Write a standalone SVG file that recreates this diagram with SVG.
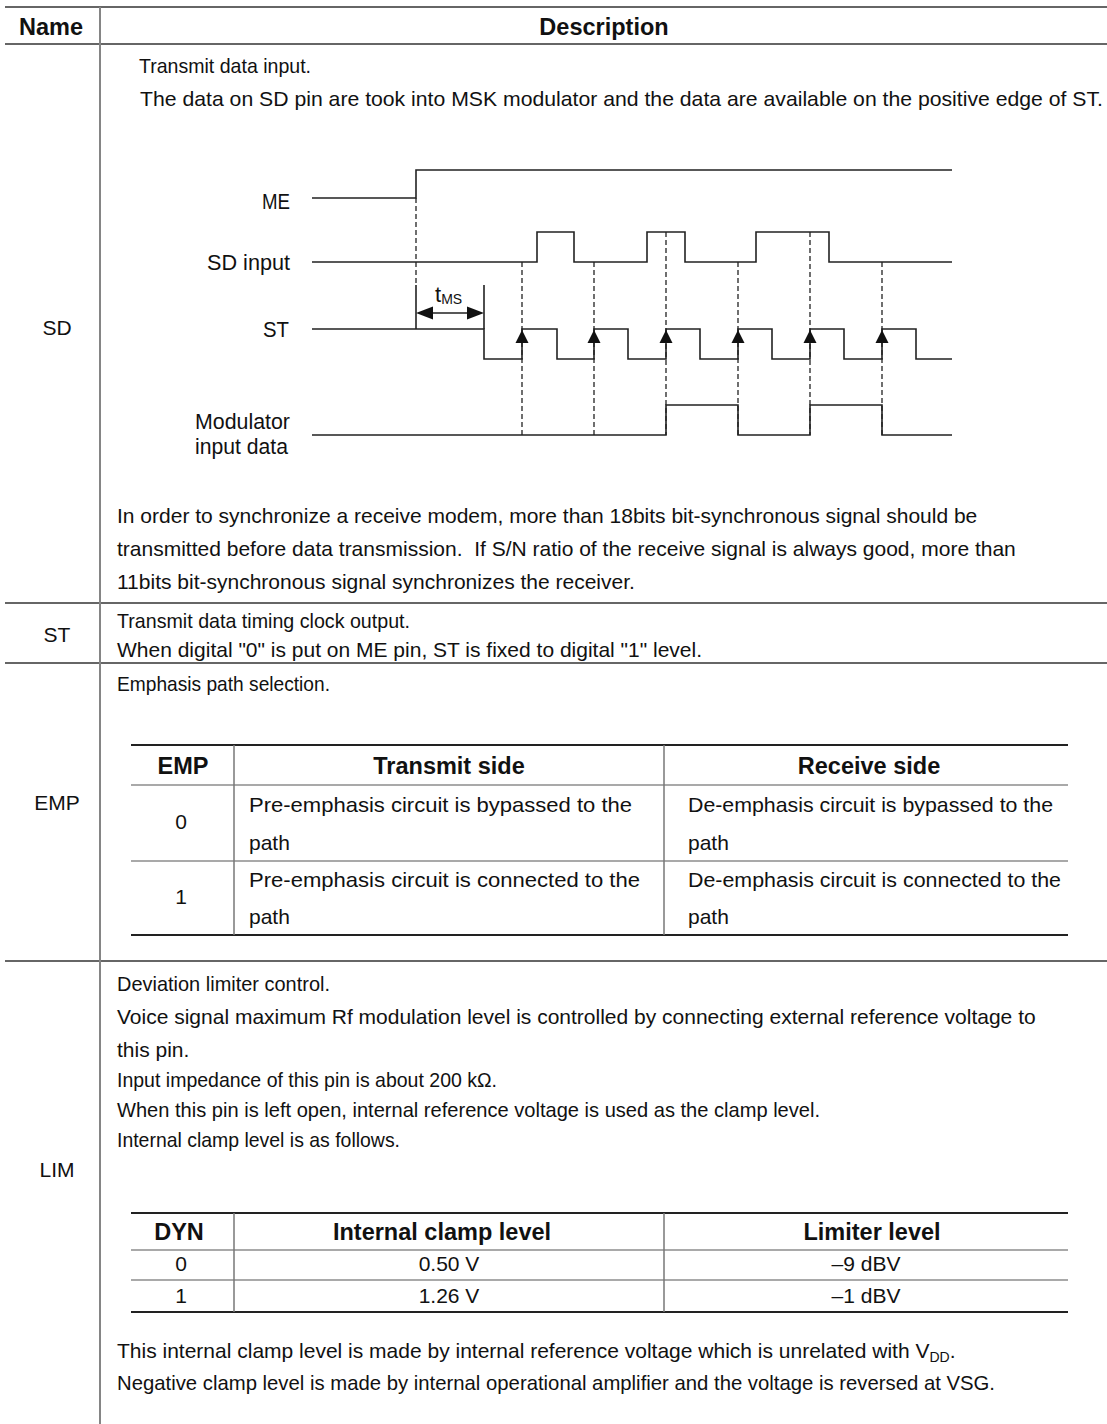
<svg xmlns="http://www.w3.org/2000/svg" width="1107" height="1424" viewBox="0 0 1107 1424">
<style>
text { font-family: "Liberation Sans", Arial, sans-serif; font-size: 21px; fill: #111; }
.b { font-weight: bold; font-size: 23.5px; }
.c { text-anchor: middle; }
.r { text-anchor: end; }
.lbl { font-size: 22px; }
.sub { font-size: 14px; }
.h { stroke: #333; stroke-width: 1.5; }
.v { stroke: #858585; stroke-width: 2; }
.tb { stroke: #222; stroke-width: 2; }
.tr { stroke: #555; stroke-width: 1.2; }
.tv { stroke: #777; stroke-width: 1.5; }
.sig { stroke: #222; stroke-width: 1.6; fill: none; }
.dash { stroke: #222; stroke-width: 1.3; stroke-dasharray: 5 3; fill: none; }
.head { fill: #111; stroke: none; }
</style>

<g id="table-grid">
  <line class="h" x1="5" y1="7" x2="1107" y2="7"/>
  <line class="h" x1="5" y1="44" x2="1107" y2="44"/>
  <line class="h" x1="5" y1="603" x2="1107" y2="603"/>
  <line class="h" x1="5" y1="663" x2="1107" y2="663"/>
  <line class="h" x1="5" y1="961" x2="1107" y2="961"/>
  <line class="v" x1="100" y1="7" x2="100" y2="1424"/>
</g>

<g id="header">
  <text class="b c" x="51" y="35">Name</text>
  <text class="b c" x="604" y="35">Description</text>
</g>

<g id="row-SD">
  <text class="c" x="57" y="335">SD</text>
  <text x="139" y="73" textLength="172" lengthAdjust="spacingAndGlyphs">Transmit data input.</text>
  <text x="140" y="106" textLength="963" lengthAdjust="spacingAndGlyphs">The data on SD pin are took into MSK modulator and the data are available on the positive edge of ST.</text>
  <text x="117" y="523">In order to synchronize a receive modem, more than 18bits bit-synchronous signal should be</text>
  <text x="117" y="556" xml:space="preserve">transmitted before data transmission.  If S/N ratio of the receive signal is always good, more than</text>
  <text x="117" y="589">11bits bit-synchronous signal synchronizes the receiver.</text>
</g>

<g id="timing-diagram">
  <g id="signal-labels">
    <text class="r lbl" x="290" y="209" textLength="28" lengthAdjust="spacingAndGlyphs">ME</text>
    <text class="r lbl" x="290" y="270" textLength="83" lengthAdjust="spacingAndGlyphs">SD input</text>
    <text class="r lbl" x="289" y="337" textLength="26" lengthAdjust="spacingAndGlyphs">ST</text>
    <text class="r lbl" x="290" y="429" textLength="95" lengthAdjust="spacingAndGlyphs">Modulator</text>
    <text class="r lbl" x="288" y="454" textLength="93" lengthAdjust="spacingAndGlyphs">input data</text>
    <text class="lbl" x="435" y="302">t<tspan class="sub" dy="2">MS</tspan></text>
  </g>
  <g id="connectors">
    <path class="dash" d="M416,198 V285 M522,262 V435 M594,262 V435 M666,232 V435 M738,262 V435 M810,232 V435 M882,262 V435"/>
    <path class="sig" d="M312,198 H416 V170 H952"/>
    <path class="sig" d="M312,262 H537 V232 H574 V262 H647 V232 H685 V262 H756 V232 H829 V262 H952"/>
    <path class="sig" d="M312,329 H484 V359 H522 V329 H557 V359 H594 V329 H628 V359 H666 V329 H700 V359 H738 V329 H772 V359 H810 V329 H844 V359 H882 V329 H916 V359 H952"/>
    <path class="sig" d="M312,435 H666 V405 H738 V435 H810 V405 H882 V435 H952"/>
    <path class="sig" d="M416,285 V329 M484,285 V329 M420,313 H480"/>
    <polygon class="head" points="416,313 433,306.5 433,319.5"/>
    <polygon class="head" points="484,313 467,306.5 467,319.5"/>
    <polygon class="head" points="522,330 515.5,343 528.5,343"/>
    <polygon class="head" points="594,330 587.5,343 600.5,343"/>
    <polygon class="head" points="666,330 659.5,343 672.5,343"/>
    <polygon class="head" points="738,330 731.5,343 744.5,343"/>
    <polygon class="head" points="810,330 803.5,343 816.5,343"/>
    <polygon class="head" points="882,330 875.5,343 888.5,343"/>
  </g>
</g>

<g id="row-ST">
  <text class="c" x="57" y="642">ST</text>
  <text x="117" y="628" textLength="293" lengthAdjust="spacingAndGlyphs">Transmit data timing clock output.</text>
  <text x="117" y="657">When digital "0" is put on ME pin, ST is fixed to digital "1" level.</text>
</g>

<g id="row-EMP">
  <text class="c" x="57" y="810">EMP</text>
  <text x="117" y="691" textLength="213" lengthAdjust="spacingAndGlyphs">Emphasis path selection.</text>
  <g id="emp-table">
    <line class="tb" x1="131" y1="745" x2="1068" y2="745"/>
    <line class="tr" x1="131" y1="785" x2="1068" y2="785"/>
    <line class="tr" x1="131" y1="861" x2="1068" y2="861"/>
    <line class="tb" x1="131" y1="935" x2="1068" y2="935"/>
    <line class="tv" x1="234" y1="745" x2="234" y2="935"/>
    <line class="tv" x1="664" y1="745" x2="664" y2="935"/>
    <text class="b c" x="183" y="774">EMP</text>
    <text class="b c" x="449" y="774">Transmit side</text>
    <text class="b c" x="869" y="774">Receive side</text>
    <text class="c" x="181" y="829">0</text>
    <text class="c" x="181" y="904">1</text>
    <text x="249" y="812" textLength="383" lengthAdjust="spacingAndGlyphs">Pre-emphasis circuit is bypassed to the</text>
    <text x="249" y="850">path</text>
    <text x="249" y="887" textLength="391" lengthAdjust="spacingAndGlyphs">Pre-emphasis circuit is connected to the</text>
    <text x="249" y="924">path</text>
    <text x="688" y="812" textLength="365" lengthAdjust="spacingAndGlyphs">De-emphasis circuit is bypassed to the</text>
    <text x="688" y="850">path</text>
    <text x="688" y="887" textLength="373" lengthAdjust="spacingAndGlyphs">De-emphasis circuit is connected to the</text>
    <text x="688" y="924">path</text>
  </g>
</g>

<g id="row-LIM">
  <text class="c" x="57" y="1177">LIM</text>
  <text x="117" y="991" textLength="213" lengthAdjust="spacingAndGlyphs">Deviation limiter control.</text>
  <text x="117" y="1024">Voice signal maximum Rf modulation level is controlled by connecting external reference voltage to</text>
  <text x="117" y="1057">this pin.</text>
  <text x="117" y="1087" textLength="380" lengthAdjust="spacingAndGlyphs">Input impedance of this pin is about 200 kΩ.</text>
  <text x="117" y="1117" textLength="703" lengthAdjust="spacingAndGlyphs">When this pin is left open, internal reference voltage is used as the clamp level.</text>
  <text x="117" y="1147" textLength="283" lengthAdjust="spacingAndGlyphs">Internal clamp level is as follows.</text>
  <g id="dyn-table">
    <line class="tb" x1="131" y1="1213" x2="1068" y2="1213"/>
    <line class="tr" x1="131" y1="1250" x2="1068" y2="1250"/>
    <line class="tr" x1="131" y1="1280" x2="1068" y2="1280"/>
    <line class="tb" x1="131" y1="1312" x2="1068" y2="1312"/>
    <line class="tv" x1="234" y1="1213" x2="234" y2="1312"/>
    <line class="tv" x1="664" y1="1213" x2="664" y2="1312"/>
    <text class="b c" x="179" y="1240">DYN</text>
    <text class="b c" x="442" y="1240">Internal clamp level</text>
    <text class="b c" x="872" y="1240">Limiter level</text>
    <text class="c" x="181" y="1271">0</text>
    <text class="c" x="181" y="1303">1</text>
    <text class="c" x="449" y="1271">0.50 V</text>
    <text class="c" x="449" y="1303">1.26 V</text>
    <text class="c" x="866" y="1271">–9 dBV</text>
    <text class="c" x="866" y="1303">–1 dBV</text>
  </g>
  <text x="117" y="1358">This internal clamp level is made by internal reference voltage which is unrelated with V<tspan class="sub" dy="4">DD</tspan><tspan dy="-4">.</tspan></text>
  <text x="117" y="1390" textLength="878" lengthAdjust="spacingAndGlyphs">Negative clamp level is made by internal operational amplifier and the voltage is reversed at VSG.</text>
</g>
</svg>
